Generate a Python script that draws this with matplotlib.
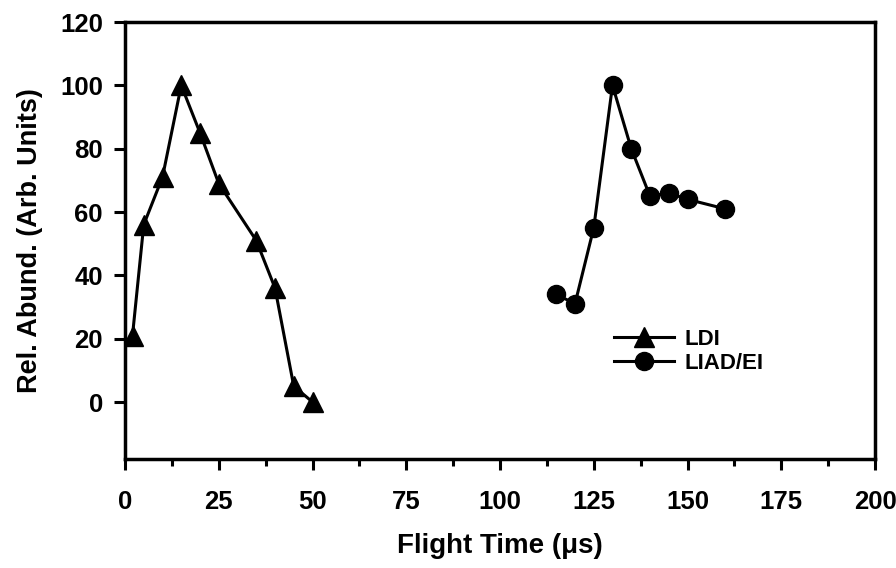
import matplotlib
matplotlib.use("Agg")
import matplotlib.pyplot as plt
from matplotlib.ticker import MultipleLocator

plt.rcParams['font.family'] = ['Liberation Sans', 'DejaVu Sans']
plt.rcParams['font.weight'] = 'bold'

# Data
ldi_time = [2, 5, 10, 15, 20, 25, 35, 40, 45, 50]
ldi_abund = [21, 56, 71, 100, 85, 69, 51, 36, 5, 0]
liad_time = [115, 120, 125, 130, 135, 140, 145, 150, 160]
liad_abund = [34, 31, 55, 100, 80, 65, 66, 64, 61]
x_ticks = [0, 25, 50, 75, 100, 125, 150, 175, 200]
y_ticks = [0, 20, 40, 60, 80, 100, 120]

fig = plt.figure(figsize=(8.96, 5.68), dpi=100)
ax = fig.add_axes([125/896, 1 - 459/568, 750/896, (459 - 22)/568])

ax.plot(ldi_time, ldi_abund, color='black', lw=2.2, marker='^', ms=15,
        label='LDI')
ax.plot(liad_time, liad_abund, color='black', lw=2.2, marker='o', ms=13,
        label='LIAD/EI')

ax.set_xlim(0, 200)
ax.set_ylim(-18, 120)
ax.set_xticks(x_ticks)
ax.set_yticks(y_ticks)
ax.xaxis.set_minor_locator(MultipleLocator(12.5))

for s in ax.spines.values():
    s.set_linewidth(2.5)

ax.tick_params(axis='both', which='major', direction='out', length=8,
               width=2.2, labelsize=18.5)
ax.tick_params(axis='x', which='major', pad=14)
ax.tick_params(axis='y', which='major', pad=8)
ax.tick_params(axis='x', which='minor', direction='out', length=5, width=2.2)
for lab in ax.get_xticklabels() + ax.get_yticklabels():
    lab.set_fontweight('bold')

ax.set_xlabel('Flight Time (\u03bcs)', fontsize=20, fontweight='bold', labelpad=14)
ax.set_ylabel('Rel. Abund. (Arb. Units)', fontsize=19.5, fontweight='bold', labelpad=12)

leg = ax.legend(loc='upper left', bbox_to_anchor=(603/896, 1 - 318/568),
                bbox_transform=fig.transFigure, frameon=False,
                prop={'weight': 'bold', 'size': 16}, handlelength=2.7,
                labelspacing=0.12, handletextpad=0.45, borderpad=0)

fig.savefig('out.png', dpi=100)
